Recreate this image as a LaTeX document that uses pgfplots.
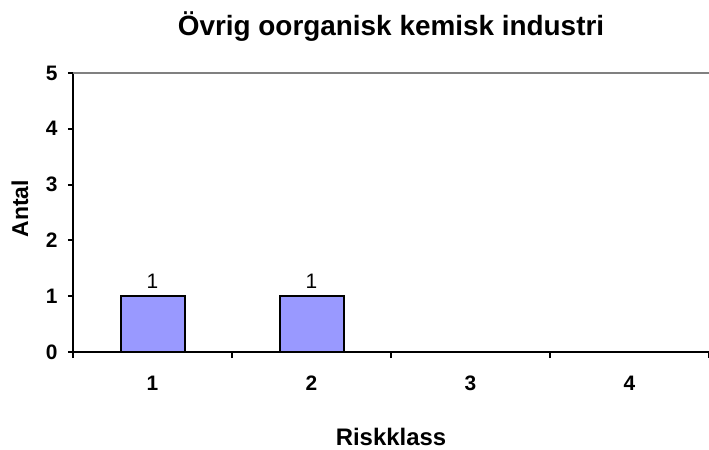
\documentclass[border=0pt]{standalone}
\usepackage{pgfplots}
\pgfplotsset{compat=1.18}
\usepackage{fontspec}
\setmainfont{Liberation Sans}
\definecolor{barfill}{HTML}{9999FF}
\definecolor{topgray}{HTML}{808080}
\begin{document}
\begin{tikzpicture}
\useasboundingbox (-73bp,-98bp) rectangle (636bp,352bp);
\begin{axis}[
  scale only axis,
  width=636bp, height=279bp,
  xmin=0.5, xmax=4.5, ymin=0, ymax=5,
  axis x line*=bottom, axis y line*=left,
  axis line style={black, line width=2bp},
  xtick={1,2,3,4},
  minor xtick={0.5,1.5,2.5,3.5,4.5},
  ytick={0,1,2,3,4,5},
  tick align=outside,
  major x tick style={draw=none},
  minor tick length=6bp,
  major tick length=5bp,
  every tick/.style={black, line width=2bp},
  /pgf/number format/assume math mode=true,
  ticklabel style={font=\fontsize{21}{23}\selectfont\bfseries},
  xticklabel style={anchor=base, yshift=-33bp},
  yticklabel style={xshift=-7bp},
  title={Övrig oorganisk kemisk industri},
  title style={font=\fontsize{28}{31}\selectfont\bfseries, at={(axis description cs:0.5,1)}, anchor=base, yshift=32bp},
  xlabel={Riskklass},
  xlabel style={font=\fontsize{24}{27}\selectfont\bfseries, at={(axis description cs:0.5,0)}, anchor=base, yshift=-93bp},
  ylabel={Antal},
  ylabel style={font=\fontsize{23}{26}\selectfont\bfseries, at={(axis description cs:-0.0833,0.514)}, anchor=center},
  clip=false,
]
\addplot[ybar, bar width=64bp, bar shift=0pt, fill=barfill, draw=black, line width=2bp,
  nodes near coords, every node near coord/.style={font=\fontsize{21}{23}\selectfont, black, anchor=base, yshift=8bp}]
  coordinates {(1,1) (2,1)};
\draw[topgray, line width=2bp] (rel axis cs:0,1) -- (rel axis cs:1,1);
\end{axis}
\end{tikzpicture}
\end{document}
